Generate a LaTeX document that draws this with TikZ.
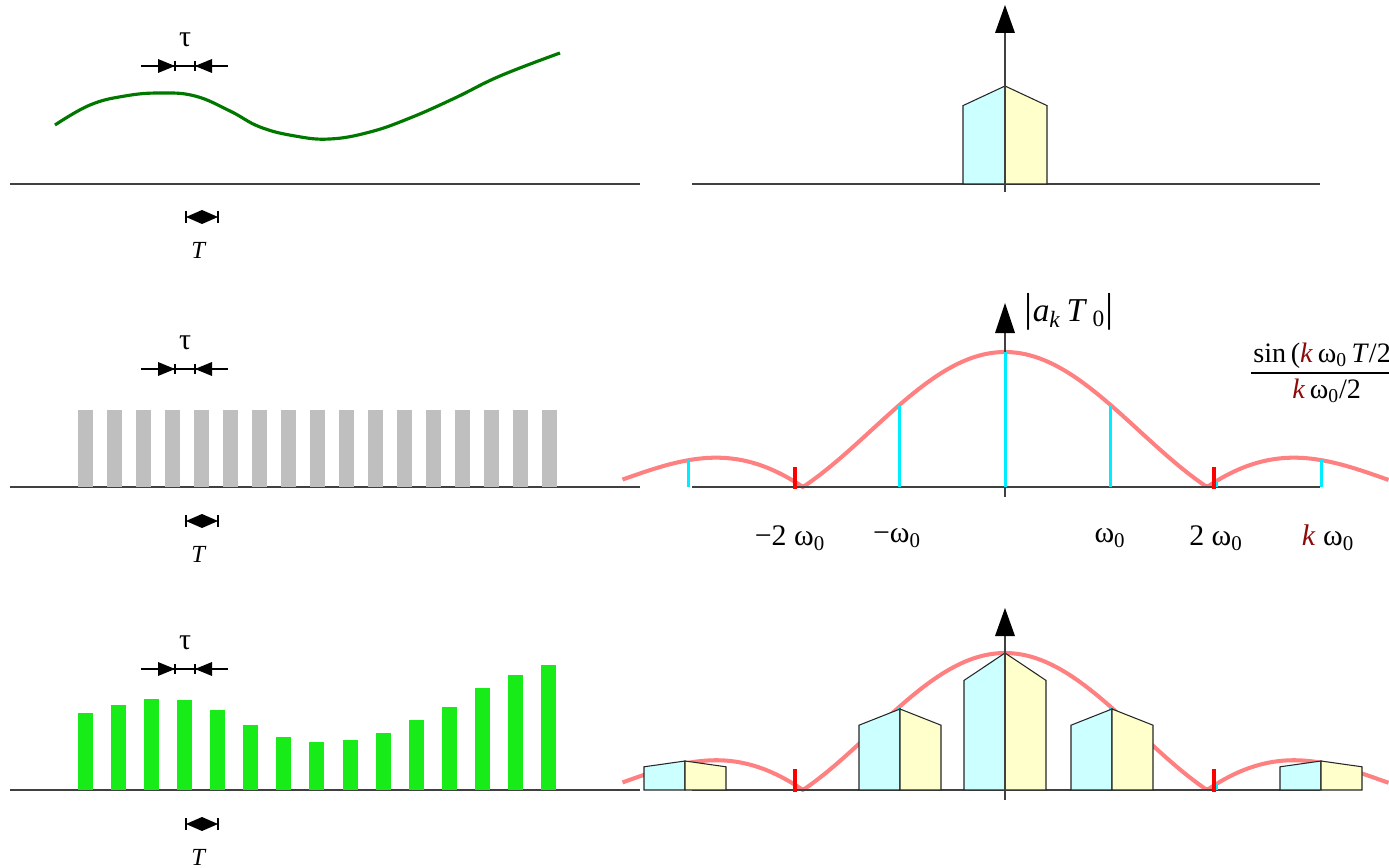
\documentclass[tikz,border=0pt]{standalone}
\usepackage{fontspec}
\setmainfont{Liberation Serif}
\usepackage{tikz}
\usetikzlibrary{calc}

\definecolor{specblue}{RGB}{204,255,255}
\definecolor{specyellow}{RGB}{255,255,204}
\definecolor{envpink}{RGB}{255,128,128}
\definecolor{sigbar}{RGB}{24,236,24}
\definecolor{sigcurve}{RGB}{0,120,0}
\definecolor{kred}{RGB}{140,10,10}
\definecolor{axisgray}{RGB}{64,64,64}
\definecolor{samplecyan}{RGB}{0,236,255}
\definecolor{zerored}{RGB}{255,0,0}

\newcommand{\wz}{ω\textsubscript{0}}
\newcommand{\kk}{\textcolor{kred}{\textit{k}}}
% pentagon spectrum block: centre x, base y, peak height, half width
\newcommand{\specbox}[4]{%
  \filldraw[fill=specblue, draw=black!85, line width=0.6pt] (#1-#4,#2) -- (#1-#4,{#2-0.8*#3}) -- (#1,#2-#3) -- (#1,#2) -- cycle;
  \filldraw[fill=specyellow, draw=black!85, line width=0.6pt] (#1,#2) -- (#1,#2-#3) -- (#1+#4,{#2-0.8*#3}) -- (#1+#4,#2) -- cycle;}

\begin{document}
\begin{tikzpicture}[
  x=0.02cm, y=-0.02cm,
  axis/.style={draw=axisgray, line width=0.7pt},
  envelope/.style={draw=envpink, line width=2.3pt},
  sample/.style={draw=samplecyan, line width=1.7pt},
  zerotick/.style={draw=zerored, line width=2pt},
  lbl/.style={font=\fontsize{17}{20}\selectfont, inner sep=0pt},
  frac/.style={font=\fontsize{16}{18}\selectfont, inner sep=0pt},
  small/.style={font=\fontsize{14}{16}\selectfont, inner sep=0pt},
]
\path[use as bounding box] (0,0) rectangle (1389,868);
\clip (0,0) rectangle (1389,868);

% left column
\foreach \y in {184,487,790} \draw[axis] (10,\y) -- (640,\y);

\draw[sigcurve, line width=1.8pt] plot[smooth, tension=0.7] coordinates {(55,125) (90,105) (125,96) (160,93) (195,96) (230,111) (260,127) (295,136) (330,139) (370,132) (410,118) (455,98) (500,76) (560,53)};

\foreach \i in {0,...,16} \fill[gray!50] ({78+29*\i},410) rectangle ++(15,77);

\foreach \i/\t in {0/713,1/705,2/699,3/700,4/710,5/725,6/737,7/742,8/740,9/733,10/720,11/707,12/688,13/675,14/665}
  \fill[sigbar] ({78+33.07*\i},\t) rectangle ({93+33.07*\i},790);

\foreach \y/\n in {66/a,369/b,669/c} {
  \draw[line width=0.6pt] (141,\y) -- (228,\y);
  \draw[line width=0.6pt] (175,\y-5) -- (175,\y+5) (195,\y-5) -- (195,\y+5);
  \fill (158,\y-7) -- (175,\y) -- (158,\y+7) -- cycle;
  \fill (212,\y-7) -- (195,\y) -- (212,\y+7) -- cycle;
  \node[small, font=\fontsize{17}{18}\selectfont] (tau\n) at (185,\y-26) {τ};
}
\foreach \y/\n in {217/a,521/b,824/c} {
  \draw[line width=0.6pt] (186,\y-6) -- (186,\y+6) (218,\y-6) -- (218,\y+6);
  \fill (186,\y) -- (202,\y-7) -- (218,\y) -- (202,\y+7) -- cycle;
  \node[small] (T\n) at (199,\y+33) {\textit{T}};
}

% right column, top: spectrum of the signal
\draw[axis] (692,184) -- (1320,184);
\specbox{1005}{184}{98}{42}
\draw[axis] (1005,192) -- (1005,33);
\fill (1005,5) -- (1015,33) -- (995,33) -- cycle;

% right column, middle: pulse coefficients
\draw[envelope] plot[domain=-382.5:383.5, samples=256] ({1005+\x}, {487-135*abs(sin(\x/202*180)/(\x/202*pi))});
\draw[axis] (692,487) -- (1320,487);
\draw[axis] (1005,497) -- (1005,333);
\fill (1005,303) -- (1015,333) -- (995,333) -- cycle;
\foreach \k/\h in {-3/26.8,-2/5.7,-1/82.1,0/135,1/82.1,2/5.7,3/26.8}
  \draw[sample] ({1005+105.5*\k},487) -- ++(0,-\h);
\draw[zerotick] (795,467) -- (795,489) (1214,467) -- (1214,489);

\node[font=\fontsize{19}{22}\selectfont, inner sep=0pt] (mag) at (1069,312) {{\fontsize{23}{24}\selectfont|}\textit{a}\textsubscript{\textit{k}}\,\textit{T}\,\textsubscript{0}{\fontsize{23}{24}\selectfont|}};
\node[frac, anchor=base west] (num) at (1253,362) {sin\,(\kk\,\wz\,\textit{T}/2)};
\node[frac, anchor=base west] (den) at (1292,398) {\kk\,\wz/2};
\draw[line width=1.1pt] (1251,373) -- (1389,373);

\node[lbl] (lm2) at (790,538) {−2 \wz};
\node[lbl] (lm1) at (897,538) {−\wz};
\node[lbl] (lp1) at (1110,538) {\wz};
\node[lbl] (lp2) at (1216,538) {2 \wz};
\node[lbl] (lk) at (1328,538) {\kk\ \wz};

% right column, bottom: spectrum of the sampled signal
\draw[envelope] plot[domain=-382.5:383.5, samples=256] ({1005+\x}, {790-137*abs(sin(\x/202*180)/(\x/202*pi))});
\draw[axis] (692,790) -- (1320,790);
\foreach \k/\h in {-3/27.2,-2/5.8,-1/83.3,0/137,1/83.3,2/5.8,3/27.2}
  \draw[sample] ({1005+105.5*\k},790) -- ++(0,-\h);
\specbox{685}{790}{29}{41}
\specbox{900}{790}{81}{41}
\specbox{1005}{790}{137}{41}
\specbox{1112}{790}{81}{41}
\specbox{1321}{790}{29}{41}
\draw[zerotick] (795,769) -- (795,792) (1214,769) -- (1214,792);
\draw[axis] (1005,800) -- (1005,636);
\fill (1005,608) -- (1015,636) -- (995,636) -- cycle;
\end{tikzpicture}
\end{document}
